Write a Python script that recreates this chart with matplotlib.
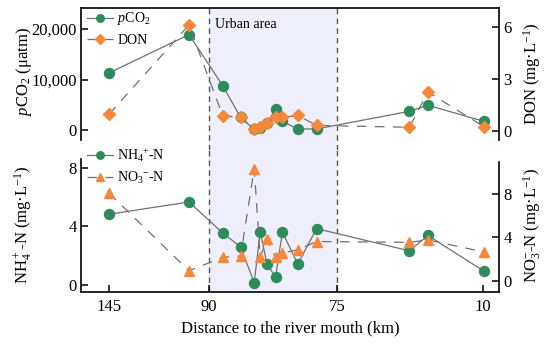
import numpy as np
import matplotlib
matplotlib.use("Agg")
import matplotlib.pyplot as plt

plt.rcParams['font.family'] = ['Liberation Serif', 'DejaVu Serif']
plt.rcParams['mathtext.fontset'] = 'custom'
plt.rcParams['mathtext.rm'] = 'Liberation Serif'
plt.rcParams['mathtext.it'] = 'Liberation Serif:italic'
plt.rcParams['lines.scale_dashes'] = False

# ---------------- data ----------------
distance_km = [145, 101, 88.4, 86.3, 84.7, 84.0, 83.2, 82.2, 81.4, 79.6, 77.4, 42.8, 34.5, 9.5]
pco2 = [11300, 18900, 8800, 2500, 100, 300, 1400, 4100, 1700, 200, 200, 3700, 4900, 1700]
don = [0.95, 6.1, 0.87, 0.77, 0.08, 0.2, 0.46, 0.77, 0.77, 0.88, 0.31, 0.2, 2.23, 0.23]
nh4 = [4.84, 5.68, 3.56, 2.6, 0.14, 3.63, 1.42, 0.51, 3.61, 1.42, 3.85, 2.33, 3.38, 0.92]
no3 = [8.05, 0.94, 2.17, 2.29, 10.3, 2.17, 3.88, 2.17, 2.57, 2.87, 3.62, 3.55, 3.76, 2.66]

x_ticks = [145, 90, 75, 10]
x_ticklabels = ['145', '90', '75', '10']
urban_start, urban_end = 90, 75
pco2_ticks = [0, 10000, 20000]
pco2_ticklabels = ['0', '10,000', '20,000']
don_ticks = [0, 3, 6]
nh4_ticks = [0, 4, 8]
no3_ticks = [0, 4, 8]

# piecewise axis (broken-scale look)
km_bp = np.array([2.9, 10, 75, 90, 145, 160.4])
pos_bp = np.array([0, 16, 162, 290, 390, 418], dtype=float)

def fwd(x):
    return np.interp(x, km_bp, pos_bp)

def inv(p):
    return np.interp(p, pos_bp, km_bp)

GREEN = '#2e8b5c'
ORANGE = '#f7883a'
LINE = '#707070'
SHADE = '#efeffc'

fig = plt.figure(figsize=(5.5, 3.44), dpi=100)
L, W = 81 / 550, 418 / 550
H = 142 / 344
ax1 = fig.add_axes([L, 1 - 150 / 344, W, H])
ax2 = fig.add_axes([L, 1 - 292 / 344, W, H])
ax1b = ax1.twinx()
ax2b = ax2.twinx()

for a in (ax1, ax2, ax1b, ax2b):
    a.set_xscale('function', functions=(fwd, inv))
    a.set_xlim(160.4, 2.9)

for a in (ax1, ax2):
    a.axvspan(urban_start, urban_end, color=SHADE, zorder=0, lw=0)
    for xv in (urban_start, urban_end):
        a.axvline(xv, color='#555555', lw=1.0, ls=(0, (4, 3)), zorder=1)

dash = (0, (7, 6))
ms = 7.2
# upper panel
l1, = ax1.plot(distance_km, pco2, color=LINE, lw=0.9, marker='o', ms=ms,
               mfc=GREEN, mec=GREEN, zorder=3)
l2, = ax1b.plot(distance_km, don, color=LINE, lw=0.9, ls=dash, marker='D', ms=6.2,
                mfc=ORANGE, mec=ORANGE, zorder=3)
ax1.set_ylim(-3960, 24160)
ax1b.set_ylim(-1.11, 7.08)
ax1.set_yticks(pco2_ticks)
ax1.set_yticklabels(pco2_ticklabels)
ax1b.set_yticks(don_ticks)
ax1.set_ylabel(r'$p$CO$_2$ (μatm)', fontsize=12)
ax1b.set_ylabel(r'DON (mg·L$^{-1}$)', fontsize=12)
ax1.yaxis.set_label_coords(-0.112, 0.55)
ax1b.yaxis.set_label_coords(1.053, 0.535)

# lower panel
l3, = ax2.plot(distance_km, nh4, color=LINE, lw=0.9, marker='o', ms=ms,
               mfc=GREEN, mec=GREEN, zorder=3)
l4, = ax2b.plot(distance_km, no3, color=LINE, lw=0.9, ls=dash, marker='^', ms=7.2,
                mfc=ORANGE, mec=ORANGE, zorder=3)
ax2.set_ylim(-0.5, 9.25)
ax2b.set_ylim(-1.0, 12.0)
ax2.set_yticks(nh4_ticks)
ax2b.set_yticks(no3_ticks)
ax2.set_ylabel(r'NH$_4^+$-N (mg·L$^{-1}$)', fontsize=12)
ax2b.set_ylabel(r'NO$_3^{-}$-N (mg·L$^{-1}$)', fontsize=12)
ax2.yaxis.set_label_coords(-0.112, 0.47)
ax2b.yaxis.set_label_coords(1.053, 0.47)

ax2.set_xticks(x_ticks)
ax2.set_xticklabels(x_ticklabels)
ax2.set_xlabel('Distance to the river mouth (km)', fontsize=12)

# spines
for a in (ax1, ax1b, ax2, ax2b):
    for s in a.spines.values():
        s.set_linewidth(1.2)
ax1.spines['bottom'].set_visible(False)
ax1.spines['right'].set_visible(False)
ax1b.spines['bottom'].set_visible(False)
ax1b.spines['left'].set_visible(False)
ax1b.spines['top'].set_visible(False)
ax1.spines['left'].set_bounds(-2000, 24160)
ax1b.spines['right'].set_bounds(-0.55, 7.08)

ax2.spines['top'].set_visible(False)
ax2.spines['right'].set_visible(False)
ax2b.spines['top'].set_visible(False)
ax2b.spines['left'].set_visible(False)
ax2b.spines['bottom'].set_visible(False)
ax2.spines['left'].set_bounds(-0.5, 8.64)
ax2b.spines['right'].set_bounds(-1.0, 10.9)

for a in (ax1, ax1b, ax2b):
    a.tick_params(axis='x', which='both', bottom=False, top=False, labelbottom=False)
ax1.xaxis.set_minor_locator(matplotlib.ticker.NullLocator())
ax2.xaxis.set_minor_locator(matplotlib.ticker.NullLocator())
ax2.tick_params(axis='x', direction='in', length=5, width=1.1, labelsize=12, pad=5)
for a in (ax1, ax2, ax1b, ax2b):
    a.tick_params(axis='y', direction='in', length=5, width=1.1, labelsize=12, pad=3)

ax1.text(89.3, 20800, 'Urban area', fontsize=10, va='center', ha='left', zorder=5)

leg_kw = dict(loc='upper left', frameon=False, fontsize=10, markerscale=0.75,
              handlelength=1.9, handletextpad=0.3, labelspacing=0.45,
              borderaxespad=0.2, borderpad=0.2)
ax1b.legend([l1, l2], [r'$p$CO$_2$', 'DON'], bbox_to_anchor=(0.0, 1.022), **leg_kw)
ax2b.legend([l3, l4], [r'NH$_4$$^{+}$-N', r'NO$_3$$^{-}$-N'],
            bbox_to_anchor=(0.0, 1.065), **leg_kw)

fig.savefig('out.png', dpi=100)
